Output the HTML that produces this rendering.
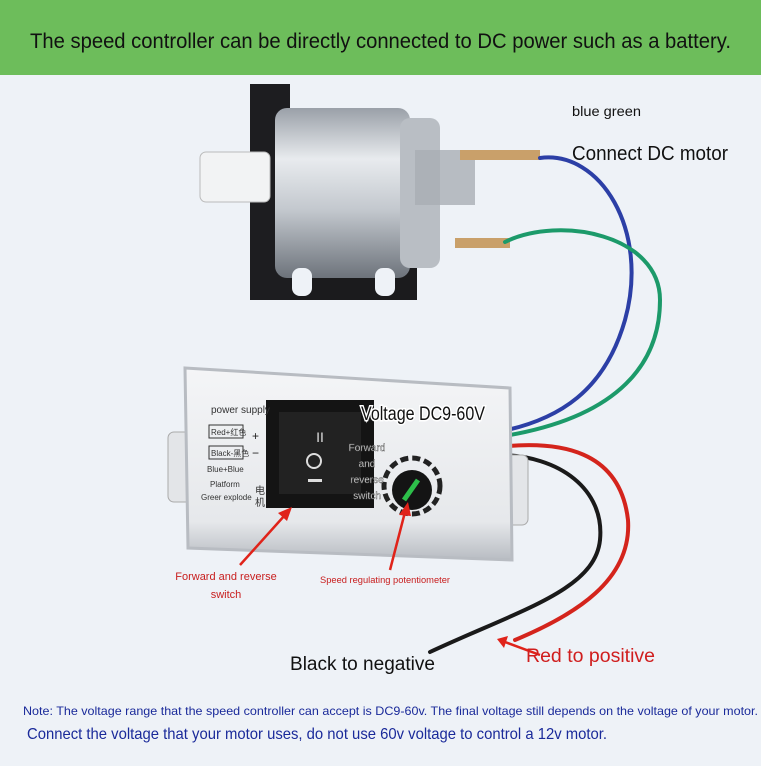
<!DOCTYPE html>
<html><head><style>
body{margin:0;width:761px;height:761px;overflow:hidden;background:#eef2f7;font-family:"Liberation Sans","Noto Sans CJK SC",sans-serif}
</style></head><body>
<svg width="761" height="761" viewBox="0 0 761 761" xmlns="http://www.w3.org/2000/svg" font-family="Liberation Sans, Noto Sans CJK SC, sans-serif">
<defs>
<linearGradient id="cyl" x1="0" y1="0" x2="0" y2="1">
<stop offset="0" stop-color="#9aa0a8"/><stop offset="0.3" stop-color="#e8ebee"/><stop offset="0.6" stop-color="#c3c8ce"/><stop offset="1" stop-color="#6d737b"/></linearGradient>
<linearGradient id="box" x1="0" y1="0" x2="0" y2="1">
<stop offset="0" stop-color="#f4f5f7"/><stop offset="0.8" stop-color="#e6e8eb"/><stop offset="1" stop-color="#b8bcc2"/></linearGradient>
</defs>
<rect x="0" y="0" width="761" height="761" fill="#eef2f7"/>
<rect x="0" y="0" width="761" height="75" fill="#6dbd5b"/>
<text x="30" y="48" font-size="21" fill="#111" textLength="701" lengthAdjust="spacingAndGlyphs">The speed controller can be directly connected to DC power such as a battery.</text>

<rect x="262" y="250" width="155" height="50" fill="#1b1b1d"/>
<rect x="250" y="84" width="40" height="216" fill="#1d1d20"/>
<rect x="200" y="152" width="70" height="50" rx="6" fill="#f2f3f4" stroke="#bbb"/>
<rect x="275" y="108" width="135" height="170" rx="12" fill="url(#cyl)"/>
<rect x="400" y="118" width="40" height="150" rx="10" fill="#b9bec4"/>
<rect x="415" y="150" width="60" height="55" fill="#a9aeb4" opacity="0.8"/>
<rect x="460" y="150" width="80" height="10" fill="#c9a06a"/>
<rect x="455" y="238" width="55" height="10" fill="#c9a06a"/>
<rect x="292" y="268" width="20" height="28" rx="8" fill="#eef2f7"/>
<rect x="375" y="268" width="20" height="28" rx="8" fill="#eef2f7"/>

<g fill="none" stroke-width="4" stroke-linecap="round">
<path d="M540 158 C600 150,650 230,625 320 C605 390,560 420,498 432" stroke="#2c3fa6"/>
<path d="M505 242 C560 215,660 235,660 300 C660 370,610 420,498 437" stroke="#1c9a6a"/>
<path d="M498 447 C560 440,620 450,628 520 C632 580,575 615,515 640" stroke="#d4241c"/>
<path d="M498 455 C560 455,605 490,600 540 C595 590,520 610,430 652" stroke="#1a1a1a"/>
</g>

<rect x="168" y="432" width="30" height="70" rx="6" fill="#e3e5e8" stroke="#aaa"/>
<rect x="500" y="455" width="28" height="70" rx="6" fill="#e3e5e8" stroke="#aaa"/>
<path d="M185 368 L510 388 L512 560 L188 548 Z" fill="url(#box)" stroke="#b8bcc2" stroke-width="3"/>
<rect x="266" y="400" width="108" height="108" fill="#141414"/>
<rect x="279" y="412" width="82" height="82" fill="#222"/>
<text x="320" y="442" text-anchor="middle" font-size="14" fill="#ddd">II</text>
<circle cx="314" cy="461" r="7" fill="none" stroke="#ddd" stroke-width="2"/>
<rect x="308" y="479" width="14" height="3" fill="#ddd"/>
<circle cx="412" cy="486" r="28" fill="none" stroke="#222" stroke-width="5" stroke-dasharray="8 4"/>
<circle cx="412" cy="490" r="20" fill="#141414"/>
<path d="M404 500 L418 480" stroke="#2dbf4a" stroke-width="5"/>
<text x="211" y="413" font-size="10" fill="#333">power supply</text>
<rect x="209" y="425" width="34" height="13" fill="none" stroke="#333"/><text x="211" y="435" font-size="8" fill="#333">Red+红色</text>
<text x="252" y="440" font-size="12" fill="#222">+</text>
<rect x="209" y="446" width="34" height="13" fill="none" stroke="#333"/><text x="211" y="456" font-size="8" fill="#333">Black-黑色</text>
<text x="252" y="457" font-size="12" fill="#222">−</text>
<text x="207" y="472" font-size="8" fill="#333">Blue+Blue</text>
<text x="210" y="487" font-size="8" fill="#333">Platform</text>
<text x="201" y="500" font-size="8" fill="#333">Greer explode</text>
<text x="255" y="494" font-size="10" fill="#333">电</text>
<text x="255" y="506" font-size="10" fill="#333">机</text>
<text x="361" y="420" font-size="19" fill="#111" stroke="#fff" stroke-width="3" paint-order="stroke" textLength="124" lengthAdjust="spacingAndGlyphs">Voltage DC9-60V</text>
<text x="367" y="451" text-anchor="middle" font-size="10" fill="#fff" stroke="#555" stroke-width="0.4">Forward</text>
<text x="367" y="467" text-anchor="middle" font-size="10" fill="#fff" stroke="#555" stroke-width="0.4">and</text>
<text x="367" y="483" text-anchor="middle" font-size="10" fill="#fff" stroke="#555" stroke-width="0.4">reverse</text>
<text x="367" y="499" text-anchor="middle" font-size="10" fill="#fff" stroke="#555" stroke-width="0.4">switch</text>

<g stroke="#e0231a" stroke-width="2.5" fill="#e0231a">
<line x1="240" y1="565" x2="285" y2="515"/><polygon points="292,507 278,513 287,521" stroke="none"/>
<line x1="390" y1="570" x2="405" y2="512"/><polygon points="408,502 399,515 411,516" stroke="none"/>
<line x1="540" y1="655" x2="505" y2="642"/><polygon points="497,639 508,636 504,648" stroke="none"/>
</g>
<text x="226" y="580" text-anchor="middle" font-size="11" fill="#c81e1e">Forward and reverse</text>
<text x="226" y="598" text-anchor="middle" font-size="11" fill="#c81e1e">switch</text>
<text x="320" y="583" font-size="9" fill="#c81e1e" textLength="130" lengthAdjust="spacingAndGlyphs">Speed regulating potentiometer</text>

<text x="572" y="116" font-size="14" fill="#111" textLength="69" lengthAdjust="spacingAndGlyphs">blue green</text>
<text x="572" y="160" font-size="20" fill="#111" textLength="156" lengthAdjust="spacingAndGlyphs">Connect DC motor</text>
<text x="290" y="670" font-size="19" fill="#111" textLength="145" lengthAdjust="spacingAndGlyphs">Black to negative</text>
<text x="526" y="662" font-size="19" fill="#d01e1e" textLength="129" lengthAdjust="spacingAndGlyphs">Red to positive</text>
<text x="23" y="715" font-size="12" fill="#1a2a9a" textLength="735" lengthAdjust="spacingAndGlyphs">Note: The voltage range that the speed controller can accept is DC9-60v. The final voltage still depends on the voltage of your motor.</text>
<text x="27" y="739" font-size="16" fill="#1a2a9a" textLength="580" lengthAdjust="spacingAndGlyphs">Connect the voltage that your motor uses, do not use 60v voltage to control a 12v motor.</text>
</svg>
</body></html>
